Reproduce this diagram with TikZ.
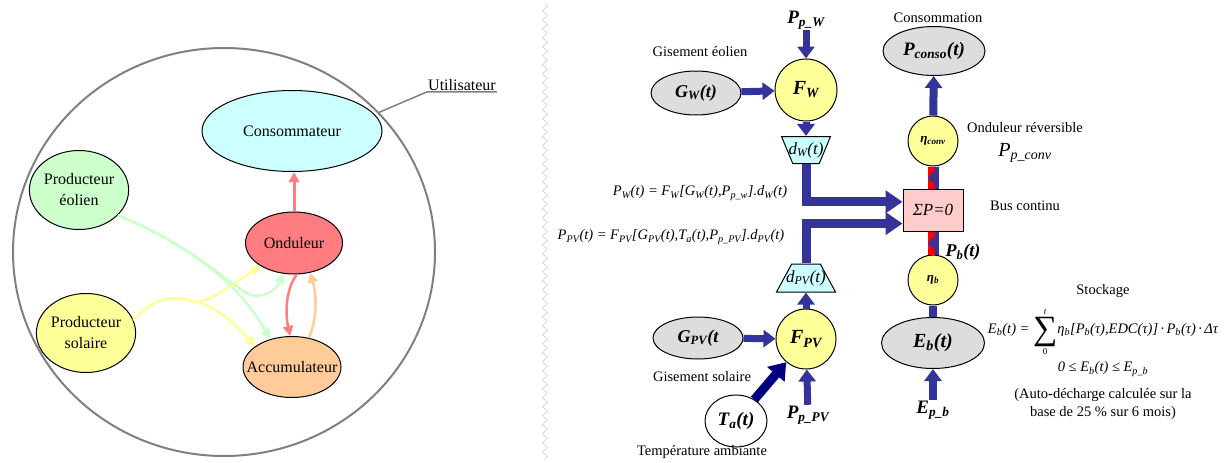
\documentclass[tikz,border=0pt]{standalone}
\usepackage{fontspec}
\setmainfont{Liberation Serif}
\usetikzlibrary{arrows.meta, shapes.geometric, decorations.pathmorphing, calc}

\definecolor{bleu}{HTML}{333399}
\definecolor{marine}{HTML}{000080}
\definecolor{cyanp}{HTML}{CCFFFF}
\definecolor{vertp}{HTML}{CCFFCC}
\definecolor{jaunep}{HTML}{FFFF99}
\definecolor{rougep}{HTML}{FF7C80}
\definecolor{orangep}{HTML}{FFCC99}
\definecolor{grisp}{HTML}{DDDDDD}
\definecolor{grisc}{HTML}{808080}
\definecolor{rosep}{HTML}{FFCCCC}
\definecolor{rougebus}{HTML}{FF0000}

\newcommand{\taille}[1]{\fontsize{#1}{#1}\selectfont}
\newcommand{\bi}{\bfseries\itshape}

% liaison bidirectionnelle du bus
\newcommand{\liaison}[2]{%
  \draw[rougebus, line width=11pt] (#1) -- (#2);
  \draw[bleu, line width=4pt] ([xshift=3.5pt]#1) -- ([xshift=3.5pt]#2);
  \fill[bleu] ($(#1)!0.5!(#2)$) +(-5,0) -- +(1.5,7) -- +(1.5,-7) -- cycle;
}

\tikzset{
  bulle/.style={ellipse, draw, line width=1pt, inner sep=0pt},
  rond/.style={circle, draw, line width=1pt, fill=jaunep, inner sep=0pt},
  gisement/.style={ellipse, draw, line width=1pt, fill=grisp, inner sep=0pt},
  filtre/.style={trapezium, draw, line width=1pt, fill=cyanp, inner sep=1pt, trapezium stretches=true},
  etiq/.style={inner sep=1pt},
  flux/.style={line width=2.5pt, -{Triangle[length=10pt,width=10pt]}},
  flbleu/.style={bleu, line width=7pt, -{Triangle[length=12pt,width=17pt]}},
  flbus/.style={bleu, line width=9pt, -{Triangle[length=17pt,width=22pt]}},
}

\begin{document}
\begin{tikzpicture}[x=1pt, y=-1pt, every node/.style={font=\taille{14.5}}]
\useasboundingbox (0,0) rectangle (1224,463);

% Partie gauche : utilisateur
\node[bulle, line width=2pt, draw=grisc, minimum width=422pt, minimum height=408pt] (util) at (224,252) {};
\node[etiq, font=\taille{16}] (lblutil) at (462,85) {Utilisateur};
\draw[grisc, line width=1.5pt] (util.42) -- (lblutil.south west) -- (lblutil.south east);

\node[bulle, fill=cyanp, minimum width=180pt, minimum height=81pt, font=\taille{16}] (conso) at (292,131) {Consommateur};
\node[bulle, fill=vertp, minimum width=97pt, minimum height=79pt, align=center, font=\fontsize{16}{21}\selectfont] (eol) at (79,190) {Producteur\\éolien};
\node[bulle, fill=rougep, minimum width=97pt, minimum height=62pt, font=\taille{16}] (ond) at (294,243) {Onduleur};
\node[bulle, fill=jaunep, minimum width=97pt, minimum height=79pt, align=center, font=\fontsize{16}{21}\selectfont] (sol) at (86,333) {Producteur\\solaire};
\node[bulle, fill=orangep, minimum width=98pt, minimum height=61pt, label={[font=\taille{16}]center:Accumulateur}] (accu) at (292,367) {};

\draw[flux, rougep, line width=3pt] (ond.north) -- (ond.north |- conso.south);
\draw[flux, rougep] (ond.-85) .. controls (284,292) and (286,318) .. (accu.93);
\draw[flux, orangep] (accu.60) .. controls (317,320) and (317,295) .. (ond.-62);
\draw[flux, vertp] (eol.-33) .. controls (190,245) and (240,285) .. (accu.128);
\draw[flux, vertp] (eol.-33) .. controls (190,245) and (228,282) .. (248,294) .. controls (262,300) and (276,290) .. (ond.-109);
\draw[flux, jaunep] (sol.15) .. controls (155,296) and (175,295) .. (195,302) .. controls (215,300) and (235,282) .. (ond.-145);
\draw[flux, jaunep] (sol.15) .. controls (155,296) and (175,295) .. (195,302) .. controls (215,304) and (235,325) .. (accu.150);

% Separation
\draw[decorate, decoration={zigzag, segment length=9pt, amplitude=2.5pt}, gray!50] (545,4) -- (545,460);

% Partie droite : branche eolienne
\node[etiq, font=\taille{19}\bi] (ppw) at (806,20) {P\textsubscript{p\_W}};
\node[etiq] (gisw) at (700,52) {Gisement éolien};
\node[gisement, minimum width=90pt, minimum height=44pt, font=\taille{18}\bi] (gw) at (696,93) {G\textsubscript{W}(t)};
\node[rond, minimum size=62pt, font=\taille{20}\bi] (fw) at (806,90) {F\textsubscript{W}};
\node[filtre, shape border rotate=180, trapezium angle=67, minimum width=49pt, minimum height=27pt,
  label={[font=\taille{17}\itshape]center:d\textsubscript{W}(t)}] (dw) at (806,150) {};
\draw[flbleu] (ppw) -- (fw);
\draw[flbleu] (gw) -- (fw);
\draw[flbleu] (fw) -- (dw);
\node[etiq, font=\taille{14.5}\itshape] (eqw) at (700,193) {P\textsubscript{W}(t) = F\textsubscript{W}[G\textsubscript{W}(t),P\textsubscript{p\_w}].d\textsubscript{W}(t)};

% branche photovoltaique
\node[etiq, font=\taille{14.5}\itshape] (eqpv) at (671,237) {P\textsubscript{PV}(t) = F\textsubscript{PV}[G\textsubscript{PV}(t),T\textsubscript{a}(t),P\textsubscript{p\_PV}].d\textsubscript{PV}(t)};
\node[filtre, trapezium angle=62, minimum width=59pt, minimum height=28pt,
  label={[font=\taille{17}\itshape]center:d\textsubscript{PV}(t)}] (dpv) at (806,278) {};
\node[rond, minimum size=60pt, font=\taille{20}\bi] (fpv) at (806,339) {F\textsubscript{PV}};
\node[gisement, minimum width=90pt, minimum height=42pt, font=\taille{18}\bi] (gpv) at (698,338) {G\textsubscript{PV}(t};
\node[etiq] (gispv) at (702,377) {Gisement solaire};
\node[bulle, fill=white, minimum width=62pt, minimum height=52pt, font=\taille{19}\bi] (ta) at (736,421) {T\textsubscript{a}(t)};
\node[etiq] (tamb) at (702,452) {Température ambiante};
\node[etiq, font=\taille{19}\bi] (pppv) at (808,415) {P\textsubscript{p\_PV}};
\draw[flbleu] (fpv) -- (dpv);
\draw[flbleu] (gpv) -- (fpv);
\draw[flbleu, marine, line width=9pt, -{Triangle[length=16pt,width=22pt]}] (ta) -- (fpv);
\draw[flbleu] (pppv) -- (fpv);

% Bus continu
\node[draw, line width=1pt, fill=rosep, minimum width=60pt, minimum height=42pt, font=\taille{17}\itshape] (bus) at (933,210) {ΣP=0};
\node[etiq] (lblbus) at (1025,206) {Bus continu};
\draw[flbus] (dw.south) |- (bus.165);
\draw[flbus] (dpv.north) |- (bus.204);

% Consommation
\node[etiq] (lblconso) at (938,18) {Consommation};
\node[gisement, minimum width=102pt, minimum height=49pt, font=\taille{19}\bi] (pconso) at (934,51) {P\textsubscript{conso}(t)};
\node[rond, minimum size=50pt, font=\taille{13}\bi] (etaconv) at (933,141) {η\textsubscript{conv}};
\node[etiq] (ondrev) at (1025,128) {Onduleur réversible};
\node[etiq, font=\taille{20}\itshape] (ppconv) at (1025,153) {P\textsubscript{p\_conv}};
\draw[flbleu, line width=8pt] (etaconv) -- (pconso);
\liaison{etaconv.south}{bus.north}

% Stockage
\node[rond, minimum size=50pt, font=\taille{13}\bi] (etab) at (933,280) {η\textsubscript{b}};
\node[etiq, font=\taille{18}\bi] (pb) at (963,252) {P\textsubscript{b}(t)};
\liaison{bus.south}{etab.north}
\node[gisement, minimum width=103pt, minimum height=51pt, font=\taille{20}\bi] (eb) at (933,343) {E\textsubscript{b}(t)};
\node[etiq, font=\taille{19}\bi] (epb) at (933,410) {E\textsubscript{p\_b}};
\draw[bleu, line width=8pt] (etab) -- (eb);
\draw[flbleu, line width=8pt] (epb) -- (eb);

\node[etiq] (lblstock) at (1103,291) {Stockage};
\node[etiq, font=\taille{14.5}\itshape] (eqeb) at (1103,332) {E\textsubscript{b}(t) = $\mathop{\hbox{\taille{34}\upshape\raisebox{-6pt}{∑}}}\limits^{\hbox{\taille{9}\itshape t}}_{\hbox{\taille{9}\upshape 0}}$η\textsubscript{b}[P\textsubscript{b}(τ),EDC(τ)]\,·\,P\textsubscript{b}(τ)\,·\,Δτ};
\node[etiq, font=\taille{14.5}\itshape] (borne) at (1103,369) {0 ≤ E\textsubscript{b}(t) ≤ E\textsubscript{p\_b}};
\node[etiq, align=center, font=\fontsize{14.5}{18}\selectfont] (autodech) at (1103,404) {(Auto-décharge calculée sur la\\base de 25 \% sur 6 mois)};
\end{tikzpicture}
\end{document}
